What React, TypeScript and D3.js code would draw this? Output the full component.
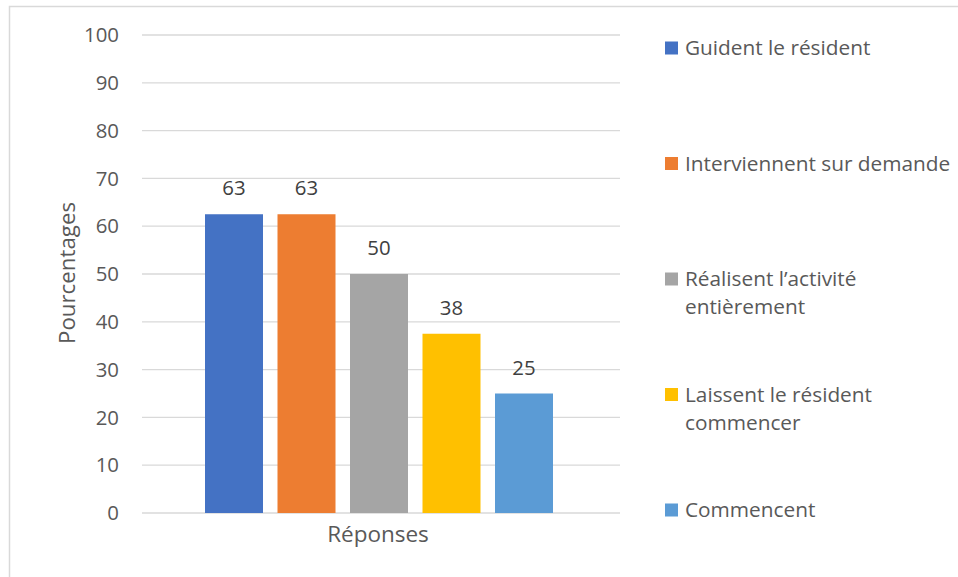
import React from "react";
import * as d3 from "d3";

const categories = ["Réponses"];
const series = [
  "Guident le résident",
  "Interviennent sur demande",
  "Réalisent l’activité entièrement",
  "Laissent le résident commencer",
  "Commencent",
];
const values = [62.5, 62.5, 50, 37.5, 25];
const colors = ["#4472C4", "#ED7D31", "#A5A5A5", "#FFC000", "#5B9BD5"];
const legendLines = [
  ["Guident le résident"],
  ["Interviennent sur demande"],
  ["Réalisent l’activité", "entièrement"],
  ["Laissent le résident", "commencer"],
  ["Commencent"],
];
const yTicks = [0, 10, 20, 30, 40, 50, 60, 70, 80, 90, 100];

const FONT = "'Open Sans', sans-serif";

export default function App() {
  const W = 958;
  const H = 577;
  const y = d3.scaleLinear().domain([0, 100]).range([513, 35]);
  const xCat = d3.scaleBand().domain(categories).range([142, 620]);
  const x = d3.scaleBand().domain(series).range([205, 553]).paddingInner(0.2).paddingOuter(0);
  const legendY = d3.scalePoint().domain(series).range([48, 510]);

  return (
    <svg width={W} height={H} style={{ position: "absolute", left: 0, top: 0, fontFamily: FONT }}>
      <rect x={0} y={0} width={W} height={H} fill="#fff" />
      <path d="M9.5,577 V6.5 H958" fill="none" stroke="#d9d9d9" strokeWidth={1.5} />
      {yTicks.map((t) => (
        <g key={t}>
          <line x1={142} x2={620} y1={y(t)} y2={y(t)} stroke="#d9d9d9" strokeWidth={1.3} />
          <text x={119} y={y(t)} dy="0.35em" textAnchor="end" fontSize={20.4} fill="#595959">
            {t}
          </text>
        </g>
      ))}
      {series.map((s, i) => (
        <g key={s}>
          <rect x={x(s)} y={y(values[i])} width={x.bandwidth()} height={y(0) - y(values[i])} fill={colors[i]} />
          <text
            x={(x(s) as number) + x.bandwidth() / 2}
            y={y(values[i]) - 26}
            dy="0.35em"
            textAnchor="middle"
            fontSize={20.4}
            fill="#404040"
          >
            {Math.round(values[i])}
          </text>
        </g>
      ))}
      {categories.map((c) => (
        <text key={c} x={(xCat(c) as number) + xCat.bandwidth() / 2 - 3} y={534} dy="0.35em" textAnchor="middle" fontSize={22.5} fill="#595959">
          {c}
        </text>
      ))}
      <text
        transform={`translate(67,${y(50) - 1}) rotate(-90)`}
        dy="0.35em"
        textAnchor="middle"
        fontSize={22.3}
        fill="#595959"
      >
        Pourcentages
      </text>
      {series.map((s, i) => {
        const ly = legendY(s) as number;
        const lines = legendLines[i];
        return (
          <g key={s}>
            <rect x={665} y={ly - 6.5} width={13} height={13} fill={colors[i]} />
            {lines.map((l, j) => (
              <text key={j} x={685} y={ly + j * 28} dy="0.35em" fontSize={20.8} fill="#595959">
                {l}
              </text>
            ))}
          </g>
        );
      })}
    </svg>
  );
}
